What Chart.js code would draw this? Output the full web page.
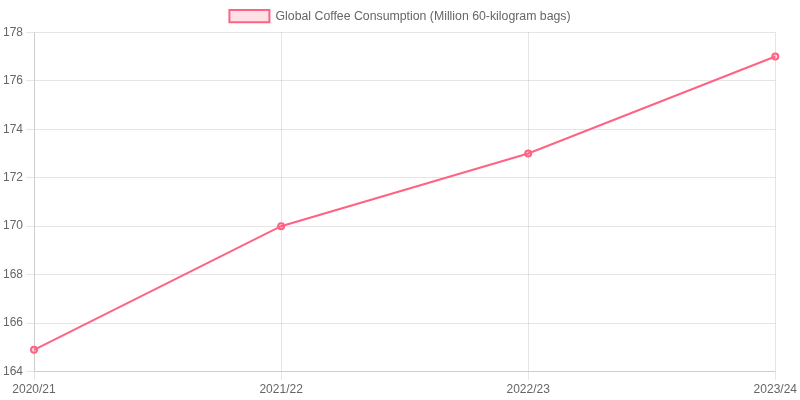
<!DOCTYPE html>
<html>
<head>
<meta charset="utf-8">
<script src="https://cdn.jsdelivr.net/npm/chart.js@4"></script>
<style>
html,body{margin:0;padding:0;background:#fff;}
#wrap{width:800px;height:400px;}
</style>
</head>
<body>
<div id="wrap"><canvas id="c"></canvas></div>
<script>
const categories = ["2020/21", "2021/22", "2022/23", "2023/24"];
const consumption = [164.9, 170, 173, 177];
const seriesLabel = "Global Coffee Consumption (Million 60-kilogram bags)";

new Chart(document.getElementById('c'), {
  type: 'line',
  data: {
    labels: categories,
    datasets: [{
      label: seriesLabel,
      data: consumption,
      borderColor: 'rgb(255, 99, 132)',
      backgroundColor: 'rgba(255, 99, 132, 0.2)',
      borderWidth: 2,
      pointRadius: 3,
      fill: false,
      tension: 0
    }]
  },
  options: {
    responsive: true,
    maintainAspectRatio: false,
    animation: false,
    plugins: {
      legend: { display: true, labels: { font: { size: 12.3 } } }
    }
  }
});
</script>
</body>
</html>
